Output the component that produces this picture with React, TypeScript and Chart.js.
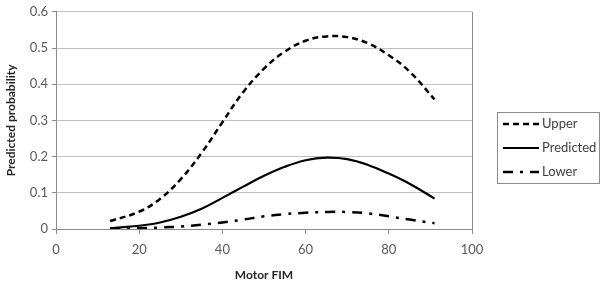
import React, { useEffect, useRef } from "react";
import { Chart, registerables } from "chart.js";

Chart.register(...registerables);

const motorFim = [13, 20, 25, 30, 35, 40, 45, 50, 55, 60, 65, 70, 75, 80, 85, 91];
const upper = [0.022, 0.048, 0.083, 0.138, 0.21, 0.295, 0.378, 0.443, 0.49, 0.52, 0.532, 0.53, 0.513, 0.48, 0.435, 0.358];
const predicted = [0.002, 0.009, 0.018, 0.034, 0.056, 0.086, 0.117, 0.147, 0.172, 0.19, 0.197, 0.193, 0.177, 0.153, 0.125, 0.084];
const lower = [0.001, 0.002, 0.004, 0.007, 0.012, 0.018, 0.026, 0.035, 0.041, 0.045, 0.047, 0.047, 0.043, 0.035, 0.026, 0.016];
const seriesLabels = ["Upper", "Predicted", "Lower"];

const FONT = "Lato, 'Noto Sans', sans-serif";

const borderPlugin = {
  id: "plotBorder",
  afterDraw(chart: any) {
    const { ctx, chartArea } = chart;
    ctx.save();
    ctx.strokeStyle = "#8c8c8c";
    ctx.lineWidth = 1;
    ctx.beginPath();
    ctx.moveTo(Math.round(chartArea.right) + 0.5, chartArea.top);
    ctx.lineTo(Math.round(chartArea.right) + 0.5, chartArea.bottom);
    ctx.stroke();

    // legend box
    const bx = 497.5, by = 112.5, bw = 102, bh = 71;
    ctx.strokeStyle = "#8c8c8c";
    ctx.strokeRect(bx, by, bw, bh);
    ctx.font = `13px ${FONT}`;
    ctx.textBaseline = "middle";
    chart.data.datasets.forEach((ds: any, i: number) => {
      const y = 124 + i * 24;
      ctx.strokeStyle = "#000";
      ctx.lineWidth = ds.borderWidth;
      ctx.setLineDash(ds.borderDash || []);
      ctx.beginPath();
      ctx.moveTo(503, y);
      ctx.lineTo(539, y);
      ctx.stroke();
      ctx.setLineDash([]);
      ctx.fillStyle = "#404040";
      ctx.fillText(ds.label, 542, y);
    });
    ctx.restore();
  },
};

export default function App() {
  const ref = useRef<HTMLCanvasElement>(null);
  useEffect(() => {
    document.body.style.margin = "0";
    const mk = (vals: number[]) => motorFim.map((x, i) => ({ x, y: vals[i] }));
    const chart = new Chart(ref.current!, {
      type: "line",
      data: {
        datasets: [
          { label: seriesLabels[0], data: mk(upper), borderColor: "#000", borderWidth: 2.5, borderDash: [6, 4], pointRadius: 0, tension: 0.4 },
          { label: seriesLabels[1], data: mk(predicted), borderColor: "#000", borderWidth: 2.2, borderDash: [], pointRadius: 0, tension: 0.4 },
          { label: seriesLabels[2], data: mk(lower), borderColor: "#000", borderWidth: 2.5, borderDash: [10, 7, 3, 7], pointRadius: 0, tension: 0.4 },
        ],
      } as any,
      options: {
        animation: false,
        responsive: false,
        layout: { padding: { top: 10, right: 132, left: 0, bottom: 0 } },
        plugins: { legend: { display: false }, tooltip: { enabled: false } },
        scales: {
          x: {
            type: "linear",
            min: 0,
            max: 100,
            ticks: { stepSize: 20, color: "#595959", font: { family: FONT, size: 13 }, padding: 8 },
            grid: { drawOnChartArea: false, drawTicks: true, tickLength: 5, color: "#8c8c8c" },
            border: { color: "#8c8c8c" },
            title: { display: true, text: "Motor FIM", color: "#262626", font: { family: FONT, size: 12, weight: "bold" }, padding: { top: 4, bottom: 4 } },
            afterFit: (s: any) => { s.height = 57; },
          },
          y: {
            min: 0,
            max: 0.6,
            ticks: { stepSize: 0.1, color: "#595959", font: { family: FONT, size: 13 }, padding: 4, callback: (v: any) => String(Math.round(Number(v) * 10) / 10) },
            grid: { color: "#c0c0c0", tickLength: 4, tickColor: "#8c8c8c" },
            border: { color: "#8c8c8c" },
            title: { display: true, text: "Predicted probability", color: "#262626", font: { family: FONT, size: 12, weight: "bold" }, padding: { top: 4, bottom: 4 } },
            afterFit: (s: any) => { s.width = 56; },
          },
        },
      } as any,
      plugins: [borderPlugin],
    });
    return () => chart.destroy();
  }, []);
  return (
    <div style={{ position: "absolute", left: 0, top: 0, width: 604, height: 286 }}>
      <canvas ref={ref} width={604} height={286} style={{ width: 604, height: 286 }} />
    </div>
  );
}
